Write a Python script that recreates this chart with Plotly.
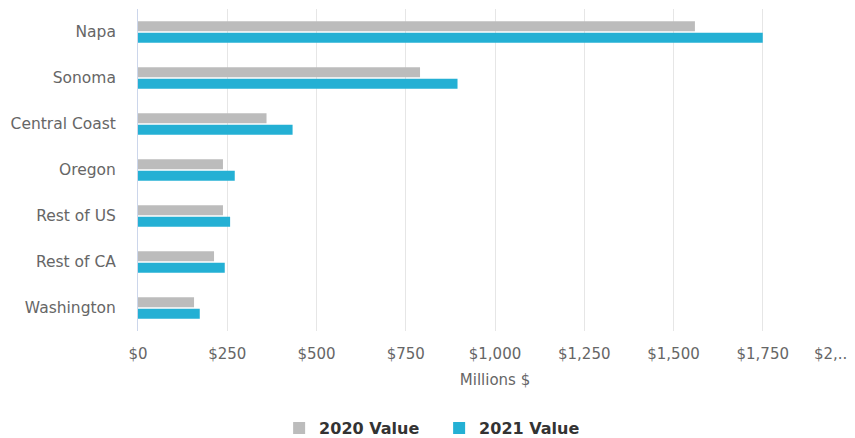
import plotly.graph_objects as go

regions = ["Napa", "Sonoma", "Central Coast", "Oregon", "Rest of US", "Rest of CA", "Washington"]
values_2020 = [1560, 790, 360, 238, 238, 213, 157]
values_2021 = [1750, 895, 433, 271, 258, 243, 173]
tick_vals = [0, 250, 500, 750, 1000, 1250, 1500, 1750, 2000]
tick_text = ["$0", "$250", "$500", "$750", "$1,000", "$1,250", "$1,500", "$1,750", ""]
last_tick_label = "$2,..."

FONT = "DejaVu Sans"

fig = go.Figure()
fig.add_trace(go.Bar(y=regions, x=values_2020, name="2020 Value", orientation="h",
                     marker=dict(color="#bcbcbc", line=dict(width=0))))
fig.add_trace(go.Bar(y=regions, x=values_2021, name="2021 Value", orientation="h",
                     marker=dict(color="#24b0d4", line=dict(width=0))))

fig.add_annotation(x=2000, y=0, xref="x", yref="paper", text=last_tick_label,
                   showarrow=False, xanchor="right", yanchor="top", xshift=2, yshift=-12,
                   font=dict(family=FONT, size=15, color="#666666"))

fig.update_layout(
    width=847, height=430,
    margin=dict(l=130, r=3, t=1, b=107),
    paper_bgcolor="white", plot_bgcolor="white",
    barmode="group", bargap=0.5, bargroupgap=0.13,
    font=dict(family=FONT, size=15, color="#666666"),
    xaxis=dict(range=[0, 2000], tickmode="array", tickvals=tick_vals, ticktext=tick_text,
               tickangle=0,
               showgrid=True, gridcolor="#e6e6e6", gridwidth=1, zeroline=False,
               showline=False, ticks="", ticklabelstandoff=12, automargin=False,
               tickfont=dict(family=FONT, size=15, color="#666666"),
               title=dict(text="Millions $", font=dict(family=FONT, size=15, color="#666666"), standoff=12)),
    yaxis=dict(autorange="reversed", showgrid=False, zeroline=False,
               showline=True, linecolor="#ccd6eb", linewidth=1, ticks="",
               ticklabelstandoff=18, automargin=False,
               tickfont=dict(family=FONT, size=15.5, color="#666666")),
    legend=dict(orientation="h", xref="container", x=0.509, xanchor="center",
                yref="container", y=0.023, yanchor="middle",
                font=dict(family=FONT, size=16, color="#333333", weight="bold"),
                itemwidth=30, entrywidth=115, traceorder="normal"),
)

fig.write_html("out.html")
